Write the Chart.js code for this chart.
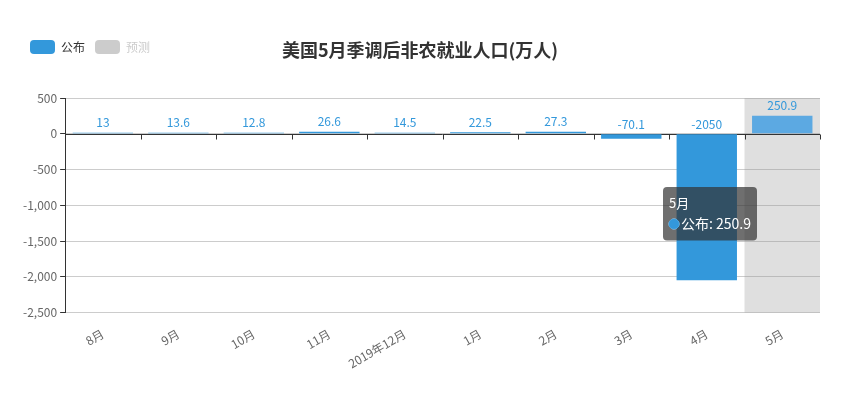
<!DOCTYPE html>
<html>
<head>
<meta charset="utf-8">
<script src="https://cdn.jsdelivr.net/npm/chart.js@4.4.1/dist/chart.umd.min.js"></script>
<style>
  html, body { margin: 0; padding: 0; background: #fff; }
  #wrap { width: 842px; height: 397px; }
</style>
</head>
<body>
<div id="wrap"><canvas id="c" width="842" height="397"></canvas></div>
<script>
const titleText = '美国5月季调后非农就业人口(万人)';
const months = ['8月', '9月', '10月', '11月', '2019年12月', '1月', '2月', '3月', '4月', '5月'];
const published = [13, 13.6, 12.8, 26.6, 14.5, 22.5, 27.3, -70.1, -2050, 250.9];
const forecast = [null, null, null, null, null, null, null, null, null, null];
const yTicks = [500, 0, -500, -1000, -1500, -2000, -2500];

const FONT = '"Microsoft YaHei", "Noto Sans CJK SC", sans-serif';
const BLUE = '#3398DB';
const activeIndex = 9;

// grey hover band, zero axis line and value labels
const extras = {
    id: 'extras',
    beforeInit(chart) {
        // leave room under the legend row
        const legend = chart.legend;
        if (legend) {
            const fit = legend.fit;
            legend.fit = function () {
                fit.call(this);
                this.height += 34;
            };
        }
    },
    beforeDatasetsDraw(chart) {
        const { ctx, chartArea, scales } = chart;
        const y = scales.y;
        const step = (chartArea.right - chartArea.left) / months.length;
        ctx.save();
        ctx.fillStyle = 'rgba(150,150,150,0.3)';
        ctx.fillRect(chartArea.left + step * activeIndex, chartArea.top, step, chartArea.bottom - chartArea.top);
        const y0 = Math.round(y.getPixelForValue(0)) + 0.5;
        ctx.strokeStyle = '#333';
        ctx.lineWidth = 1;
        ctx.beginPath();
        ctx.moveTo(chartArea.left, y0);
        ctx.lineTo(chartArea.right, y0);
        for (let i = 1; i <= months.length; i++) {
            const px = Math.round(chartArea.left + step * i) + 0.5;
            ctx.moveTo(px, y0);
            ctx.lineTo(px, y0 + 5);
        }
        ctx.stroke();
        ctx.restore();
    },
    afterDatasetsDraw(chart) {
        const { ctx } = chart;
        const meta = chart.getDatasetMeta(0);
        ctx.save();
        ctx.font = '12px ' + FONT;
        ctx.fillStyle = BLUE;
        ctx.textAlign = 'center';
        ctx.textBaseline = 'bottom';
        meta.data.forEach((bar, i) => {
            const top = Math.min(bar.y, bar.base);
            ctx.fillText(String(published[i]), bar.x, top - 4);
        });
        ctx.restore();
    },
    afterDraw(chart) {
        const { ctx, width } = chart;
        ctx.save();
        ctx.font = 'bold 18px ' + FONT;
        ctx.fillStyle = '#333';
        ctx.textAlign = 'center';
        ctx.textBaseline = 'middle';
        ctx.fillText(titleText, width / 2 - 1, 50);
        ctx.restore();
    }
};

Chart.Tooltip.positioners.fixedSpot = function () {
    return { x: 667, y: 187 };
};

const chart = new Chart(document.getElementById('c'), {
    type: 'bar',
    data: {
        labels: months,
        datasets: [
            {
                label: '公布',
                data: published,
                backgroundColor: BLUE,
                hoverBackgroundColor: '#5CA9E2',
                barPercentage: 0.8,
                categoryPercentage: 1
            },
            {
                label: '预测',
                data: forecast,
                backgroundColor: '#ccc',
                hidden: true
            }
        ]
    },
    options: {
        responsive: false,
        animation: false,
        events: [],
        layout: { padding: { left: 20, right: 22, top: 30, bottom: 20 } },
        plugins: {
            title: { display: false },
            legend: {
                display: true,
                position: 'top',
                align: 'start',
                labels: {
                    boxWidth: 25,
                    boxHeight: 14,
                    padding: 10,
                    useBorderRadius: true,
                    borderRadius: 4,
                    font: { size: 12, family: FONT },
                    color: '#333',
                    generateLabels() {
                        return [
                            { text: '公布', fillStyle: BLUE, strokeStyle: BLUE, lineWidth: 0, hidden: false, fontColor: '#333', datasetIndex: 0, borderRadius: 4 },
                            { text: '预测', fillStyle: '#ccc', strokeStyle: '#ccc', lineWidth: 0, hidden: false, fontColor: '#ccc', datasetIndex: 1, borderRadius: 4 }
                        ];
                    }
                }
            },
            tooltip: {
                enabled: true,
                position: 'fixedSpot',
                xAlign: 'left',
                yAlign: 'top',
                caretSize: 0,
                caretPadding: 0,
                backgroundColor: 'rgba(50,50,50,0.7)',
                cornerRadius: 4,
                padding: { left: 6, right: 6, top: 8, bottom: 8 },
                titleFont: { size: 13, weight: 'normal', family: FONT },
                bodyFont: { size: 14, family: FONT },
                titleMarginBottom: 5,
                usePointStyle: true,
                boxWidth: 10,
                boxHeight: 10,
                displayColors: true,
                callbacks: {
                    labelColor: () => ({ borderColor: BLUE, backgroundColor: BLUE }),
                    labelPointStyle: () => ({ pointStyle: 'circle', rotation: 0 }),
                    label: (item) => item.dataset.label + ': ' + item.raw
                }
            }
        },
        scales: {
            x: {
                grid: { display: false },
                border: { display: false },
                ticks: {
                    color: '#666',
                    font: { size: 12, family: FONT },
                    minRotation: 30,
                    maxRotation: 30,
                    padding: 6
                }
            },
            y: {
                min: -2500,
                max: 500,
                afterBuildTicks(axis) {
                    axis.ticks = yTicks.map(v => ({ value: v }));
                },
                grid: { color: '#ccc', tickColor: '#333', tickLength: 5 },
                border: { color: '#333' },
                ticks: {
                    color: '#666',
                    font: { size: 12, family: FONT },
                    padding: 3,
                    callback: (v) => v.toLocaleString('en-US')
                }
            }
        }
    },
    plugins: [extras]
});

chart.setActiveElements([{ datasetIndex: 0, index: activeIndex }]);
chart.tooltip.setActiveElements([{ datasetIndex: 0, index: activeIndex }], { x: 667, y: 187 });
chart.update();
</script>
</body>
</html>
